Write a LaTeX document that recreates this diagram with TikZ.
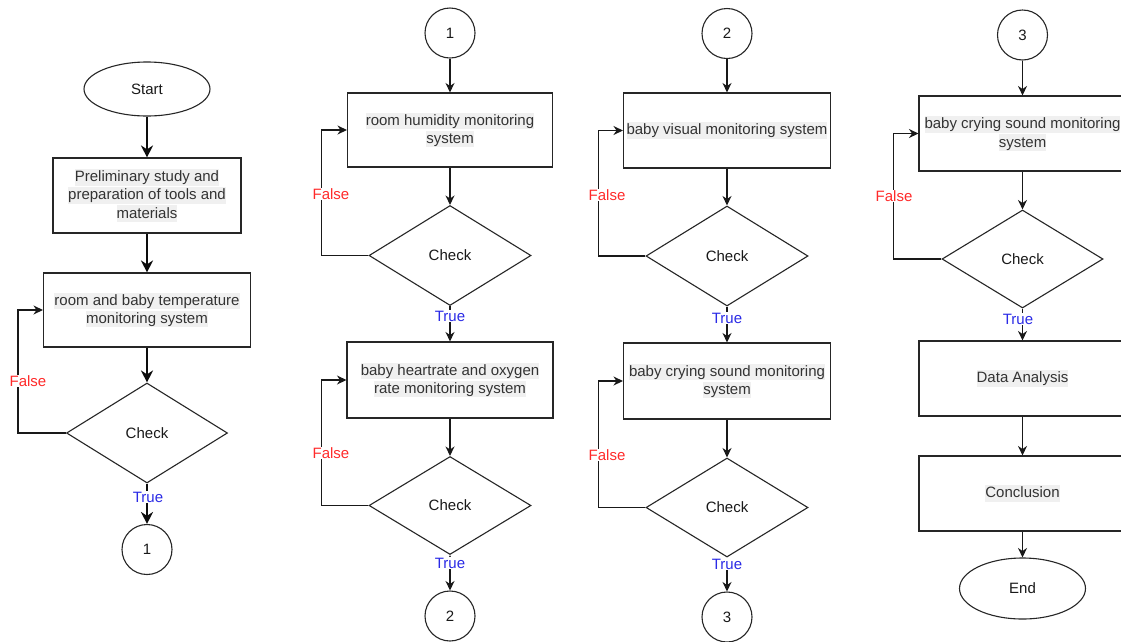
\documentclass[tikz,border=0pt]{standalone}
\usepackage{fontspec}
\setmainfont{Liberation Sans}
\usetikzlibrary{shapes.geometric,arrows.meta}
\definecolor{txt}{HTML}{333333}
\definecolor{hl}{HTML}{F0F0F0}
\definecolor{fcol}{HTML}{FF2A2A}
\definecolor{tcol}{HTML}{2A2AE6}
\newcommand{\hlt}[1]{{\setlength{\fboxsep}{0pt}\colorbox{hl}{\vrule width 0pt height 12.8pt depth 3.9pt #1}}}
\tikzset{
  shp/.style={draw=black!85, line width=1.1pt, font=\fontsize{15}{18.2}\selectfont},
  proc/.style={shp, rectangle, minimum width=207pt, minimum height=75pt, align=center, inner sep=0pt, text=txt},
  term/.style={shp, ellipse, minimum width=126pt, minimum height=54pt, inner sep=0pt, text=black!90},
  dec/.style={shp, diamond, minimum width=162pt, minimum height=100pt, inner sep=0pt, text=black!90},
  conn/.style={shp, circle, minimum size=50pt, inner sep=0pt, text=black!90},
  arr/.style={draw=black!90, line width=1.1pt, -{Stealth[length=9.5pt,width=9pt]}},
  arrb/.style={draw=black!95, line width=2.5pt, -{Stealth[length=12pt,width=12pt]}},
  lab/.style={fill=white, inner sep=0.3pt, font=\fontsize{15}{17}\selectfont},
  flab/.style={lab, text=fcol},
  tlab/.style={lab, text=tcol},
}
\begin{document}
\begin{tikzpicture}[x=1pt, y=-1pt]
\clip (0,0) rectangle (1121,641);
\fill[white] (0,0) rectangle (1121,641);

% ---------- Column 1 ----------
\node[term] (start) at (147,89) {Start};
\node[proc, minimum width=188pt] (p1) at (147,195.5) {\hlt{Preliminary study and}\\\hlt{preparation of tools and}\\\hlt{materials}};
\node[proc, minimum height=74pt] (p2) at (147,310) {\hlt{room and baby temperature}\\\hlt{monitoring system}};
\node[dec, minimum width=161pt] (d1) at (147,433) {Check};
\node[conn] (c1a) at (147,549.5) {1};

\draw[arrb] (start) -- (p1);
\draw[arrb] (p1) -- (p2);
\draw[arrb] (p2) -- (d1);
\draw[arrb] (d1) -- (c1a);
\draw[arr] (d1.west) -- ++(-48,0) |- (p2.west);
\node[flab] (f1) at (28,381) {False};
\node[tlab] (t1) at (148,497) {True};

% ---------- Column 2 ----------
\node[conn] (c1b) at (450,33) {1};
\node[proc, minimum width=205pt, minimum height=74pt] (q1) at (450,130) {\hlt{room humidity monitoring}\\\hlt{system}};
\node[dec] (d2) at (450,255.5) {Check};
\node[proc, minimum width=206pt, minimum height=76pt] (q2) at (450,380) {\hlt{baby heartrate and oxygen}\\\hlt{rate monitoring system}};
\node[dec, minimum height=98pt] (d3) at (450,505.5) {Check};
\node[conn] (c2a) at (450,616) {2};

\draw[arr] (c1b) -- (q1);
\draw[arr] (q1) -- (d2);
\draw[arr] (d2) -- (q2);
\draw[arr] (q2) -- (d3);
\draw[arr, {Stealth[length=9.5pt,width=9pt]}-{Stealth[length=9.5pt,width=9pt]}] (d3.south) -- (c2a.north);
\draw[arr] (d2.west) -- ++(-47,0) |- (q1.west);
\draw[arr] (d3.west) -- ++(-47,0) |- (q2.west);
\node[flab] (f2) at (331,194) {False};
\node[flab] (f3) at (331,453) {False};
\node[tlab] (t2) at (450,316) {True};
\node[tlab] (t3) at (450,563) {True};

% ---------- Column 3 ----------
\node[conn] (c2b) at (727,33.5) {2};
\node[proc] (r1) at (727,130.5) {\hlt{baby visual monitoring system}};
\node[dec] (d4) at (727,256) {Check};
\node[proc, minimum height=76pt] (r2) at (727,381) {\hlt{baby crying sound monitoring}\\\hlt{system}};
\node[dec, minimum height=99pt] (d5) at (727,507.5) {Check};
\node[conn] (c3a) at (727,617) {3};

\draw[arr] (c2b) -- (r1);
\draw[arr] (r1) -- (d4);
\draw[arr] (d4) -- (r2);
\draw[arr] (r2) -- (d5);
\draw[arr] (d5) -- (c3a);
\draw[arr] (d4.west) -- ++(-47,0) |- (r1.west);
\draw[arr] (d5.west) -- ++(-47,0) |- (r2.west);
\node[flab] (f4) at (607,195) {False};
\node[flab] (f5) at (607,455) {False};
\node[tlab] (t4) at (727,318) {True};
\node[tlab] (t5) at (727,564) {True};

% ---------- Column 4 ----------
\node[conn] (c3b) at (1022.5,35) {3};
\node[proc] (s1) at (1022.5,133.5) {\hlt{baby crying sound monitoring}\\\hlt{system}};
\node[dec, minimum width=161pt, minimum height=98pt] (d6) at (1022.5,259) {Check};
\node[proc] (s2) at (1022.5,378.5) {\hlt{Data Analysis}};
\node[proc] (s3) at (1022.5,493.5) {\hlt{Conclusion}};
\node[term, minimum height=61pt] (end) at (1022.5,588.5) {End};

\draw[arr] (c3b) -- (s1);
\draw[arr] (s1) -- (d6);
\draw[arr] (d6) -- (s2);
\draw[arr] (s2) -- (s3);
\draw[arr] (s3) -- (end);
\draw[arr] (d6.west) -- ++(-48,0) |- (s1.west);
\node[flab] (f6) at (894,196) {False};
\node[tlab] (t6) at (1018,319) {True};
\end{tikzpicture}
\end{document}
